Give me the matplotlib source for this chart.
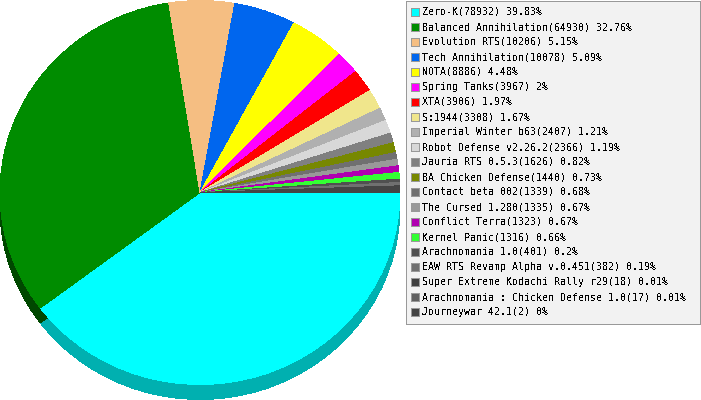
import matplotlib
matplotlib.use("Agg")
import matplotlib.pyplot as plt
from matplotlib.patches import Rectangle
import numpy as np

# games and how many battles each one had
names = ["Zero-K", "Balanced Annihilation", "Evolution RTS", "Tech Annihilation", "NOTA",
         "Spring Tanks", "XTA", "S:1944", "Imperial Winter b63", "Robot Defense v2.26.2",
         "Jauria RTS 0.5.3", "BA Chicken Defense", "Contact beta 002", "The Cursed 1.280",
         "Conflict Terra", "Kernel Panic", "Arachnomania 1.0", "EAW RTS Revamp Alpha v.0.451",
         "Super Extreme Kodachi Rally r29", "Arachnomania : Chicken Defense 1.0", "Journeywar 42.1"]
counts = [78932, 64930, 10206, 10078, 8886, 3967, 3906, 3308, 2407, 2366,
          1626, 1440, 1339, 1335, 1323, 1316, 401, 382, 18, 17, 2]
percents = ["39.83", "32.76", "5.15", "5.09", "4.48", "2", "1.97", "1.67", "1.21", "1.19",
            "0.82", "0.73", "0.68", "0.67", "0.67", "0.66", "0.2", "0.19", "0.01", "0.01", "0"]
colors = ["#00ffff", "#008c00", "#f5be82", "#0066ee", "#ffff00", "#ff00ff", "#ff0000", "#f0e68c",
          "#b0b0b0", "#d8d8d8", "#808080", "#778800", "#707070", "#999999", "#b000b0", "#33ff33",
          "#505050", "#707070", "#404040", "#606060", "#444444"]
side_colors = ["#00b0b0", "#004800", "#808080"]

plt.rcParams["font.family"] = "DejaVu Sans Mono"
plt.rcParams["text.antialiased"] = False

# the original chart rounds every slice to whole degrees, the last one closes the circle
degrees = np.round(np.array(counts) / sum(counts) * 360)
degrees[-1] = 360 - degrees[:-1].sum()

W, H = 701, 400
fig = plt.figure(figsize=(W / 100, H / 100), dpi=100, facecolor="white")

# pie axes: one unit is the radius of the ellipse (200 x 192 px)
ax = fig.add_axes([0, 0, 1, 1])
wedge_style = {"linewidth": 0, "antialiased": False, "clip_on": False}
ax.pie(degrees, colors=side_colors, startangle=0, counterclock=False,
       center=(0, -15 / 192), wedgeprops=wedge_style)
ax.pie(degrees, colors=colors, startangle=0, counterclock=False, wedgeprops=wedge_style)
ax.set_aspect("auto")
ax.set_xlim(-1, (W - 200) / 200)
ax.set_ylim(-(H - 192.5) / 192, 192.5 / 192)

# legend box, drawn in pixels
lg = fig.add_axes([0, 0, 1, 1])
lg.set_xlim(0, W)
lg.set_ylim(H, 0)
lg.axis("off")
lg.add_patch(Rectangle((405.5, 0.5), 294.5, 323.5, facecolor="#f2f2f2", edgecolor="#999999",
                       linewidth=0.72, antialiased=False))
for i in range(len(names)):
    y = 12 + 15 * i
    lg.add_patch(Rectangle((410.5, y - 4.5), 8, 8, facecolor=colors[i], edgecolor="#999999",
                           linewidth=0.72, antialiased=False))
    lg.text(422, y, f"{names[i]}({counts[i]}) {percents[i]}%", fontsize=7.2, color="black",
            va="center", ha="left")

fig.savefig("out.png", dpi=100, facecolor="white")
